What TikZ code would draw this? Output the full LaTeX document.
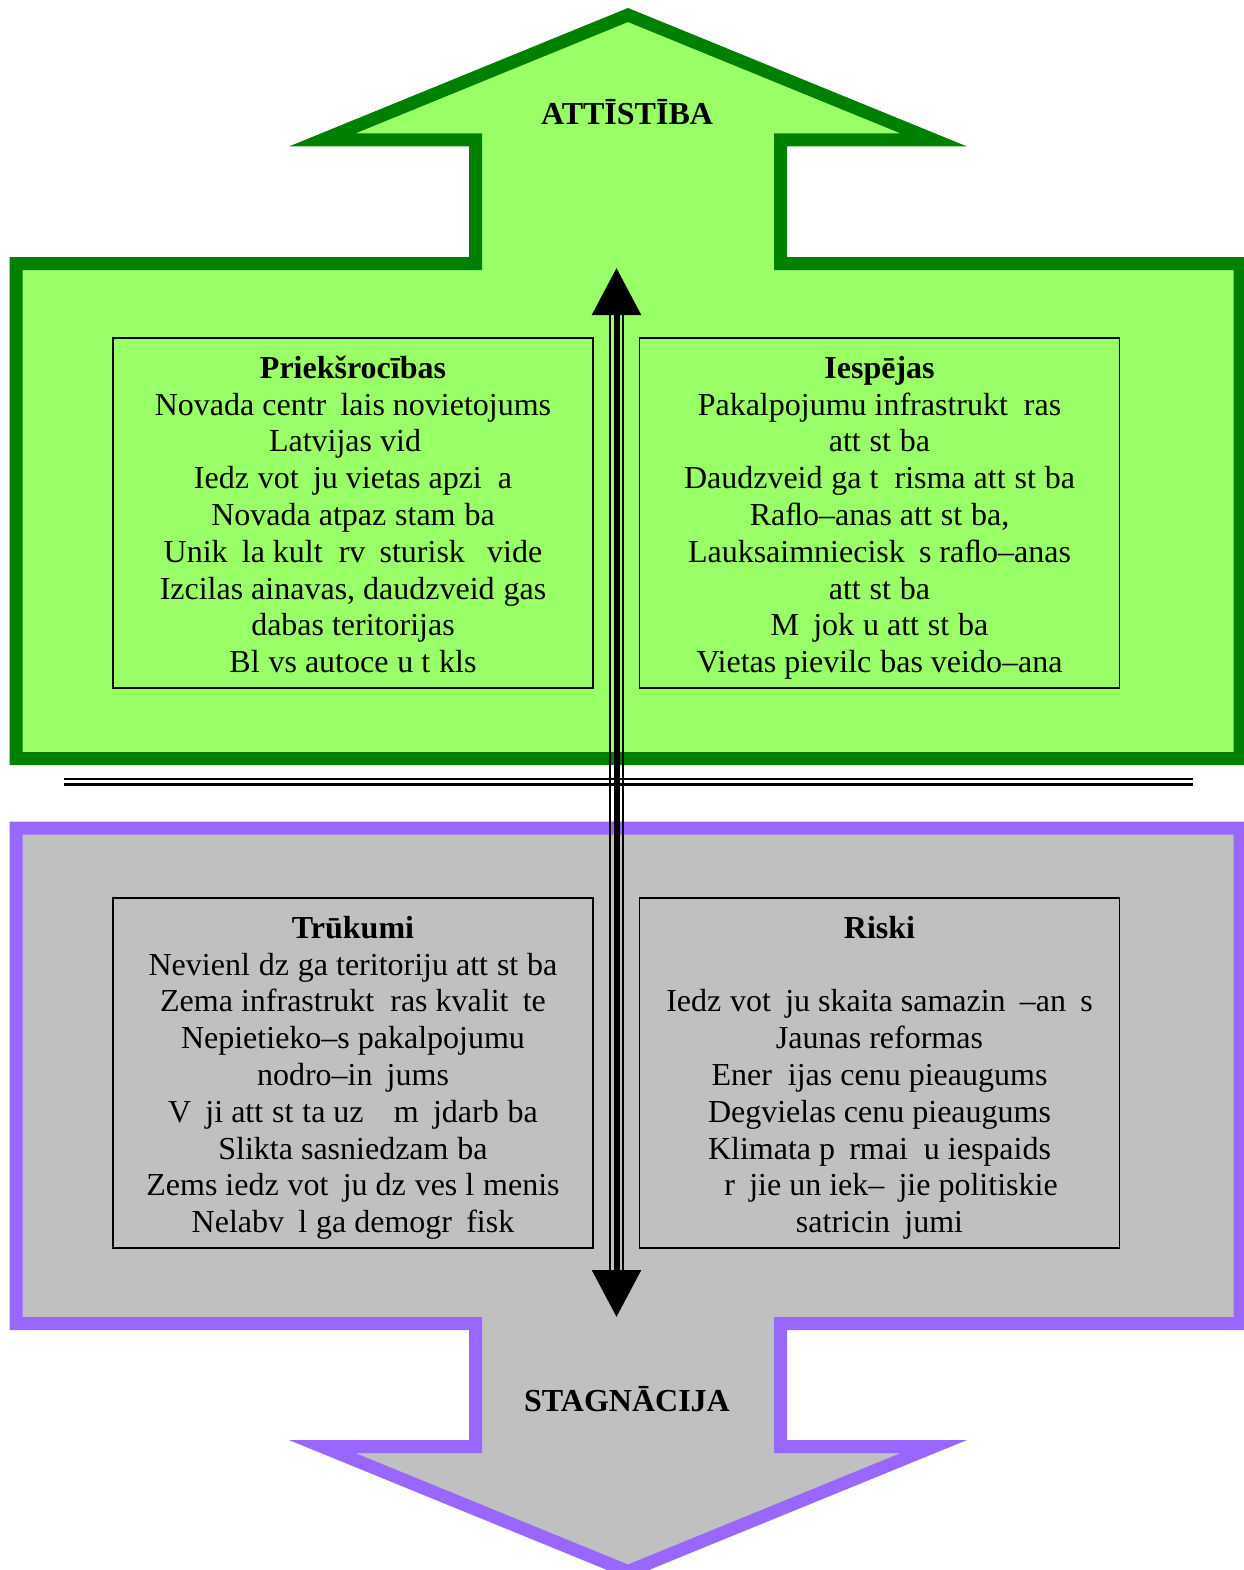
\documentclass[tikz,border=0pt]{standalone}
\usepackage{fontspec}
\setmainfont{Liberation Serif}
\usetikzlibrary{arrows.meta}
\definecolor{upfill}{HTML}{99FF66}
\definecolor{upline}{HTML}{008000}
\definecolor{downfill}{HTML}{C0C0C0}
\definecolor{downline}{HTML}{9966FF}
\newcommand\ph[1]{\phantom{#1}}
\newcommand\topstrut{\rule{0pt}{36pt}}
\begin{document}
\begin{tikzpicture}[x=1pt,y=-1pt,
  bigshape/.style={line width=13pt, miter limit=20, line join=miter},
  swotbox/.style={draw=black, line width=1.3pt, minimum width=480pt, minimum height=350pt, inner sep=0pt, align=center, font=\fontsize{32}{36.8}\selectfont},
  headtxt/.style={font=\fontsize{32}{36.8}\selectfont\bfseries, anchor=base, inner sep=0pt},
  sepline/.style={line width=2.5pt},
  shaftside/.style={line width=2.5pt},
  shaftmid/.style={line width=6pt, {Triangle[length=47pt,width=48pt]}-{Triangle[length=47pt,width=48pt]}},
]
\useasboundingbox (0,0) rectangle (1243,1570);
% development arrow (up)
\draw[bigshape, draw=upline, fill=upfill]
  (322,140) -- (628,15) -- (934,140) -- (780.5,140) -- (780.5,263.5) -- (1240,263.5)
  -- (1240,758.5) -- (16,758.5) -- (16,263.5) -- (475.5,263.5) -- (475.5,140) -- cycle;
% stagnation arrow (down)
\draw[bigshape, draw=downline, fill=downfill]
  (16,828) -- (1240,828) -- (1240,1323.5) -- (780.5,1323.5) -- (780.5,1446.5) -- (934,1446.5)
  -- (628,1571.5) -- (322,1446.5) -- (475.5,1446.5) -- (475.5,1323.5) -- (16,1323.5) -- cycle;
% separating double line
\coordinate (s1a) at (64,779); \coordinate (s1b) at (1193,779);
\coordinate (s2a) at (64,784.5); \coordinate (s2b) at (1193,784.5);
\draw[sepline] (s1a) -- (s1b);
\draw[sepline] (s2a) -- (s2b);
% titles
\node[headtxt] (att) at (627,125) {ATTĪSTĪBA};
\node[headtxt] (stag) at (627,1411) {STAGNĀCIJA};
% boxes
\node[swotbox] (pr) at (353,513) {\topstrut\textbf{Priekšrocības}\\
Novada centr\ph{ā}lais novietojums\\
Latvijas vid\ph{ū}\\
Iedz\ph{ī}vot\ph{ā}ju vietas apzi\ph{ņ}a\\
Novada atpaz\ph{ī}stam\ph{ī}ba\\
Unik\ph{ā}la kult\ph{ū}rv\ph{ē}sturisk\ph{ā} vide\\
Izcilas ainavas, daudzveid\ph{ī}gas\\
dabas teritorijas\\
Bl\ph{ī}vs autoce\ph{ļ}u t\ph{ī}kls\strut};
\node[swotbox] (ie) at (879.5,513) {\topstrut\textbf{Iespējas}\\
Pakalpojumu infrastrukt\ph{ū}ras\\
att\ph{ī}st\ph{ī}ba\\
Daudzveid\ph{ī}ga t\ph{ū}risma att\ph{ī}st\ph{ī}ba\\
Raﬂo–anas att\ph{ī}st\ph{ī}ba,\\
Lauksaimniecisk\ph{ā}s raﬂo–anas\\
att\ph{ī}st\ph{ī}ba\\
M\ph{ā}jok\ph{ļ}u att\ph{ī}st\ph{ī}ba\\
Vietas pievilc\ph{ī}bas veido–ana\strut};
\node[swotbox] (tr) at (353,1073) {\topstrut\textbf{Trūkumi}\\
Nevienl\ph{ī}dz\ph{ī}ga teritoriju att\ph{ī}st\ph{ī}ba\\
Zema infrastrukt\ph{ū}ras kvalit\ph{ā}te\\
Nepietieko–s pakalpojumu\\
nodro–in\ph{ā}jums\\
V\ph{ā}ji att\ph{ī}st\ph{ī}ta uz\ph{ņē}m\ph{ē}jdarb\ph{ī}ba\\
Slikta sasniedzam\ph{ī}ba\\
Zems iedz\ph{ī}vot\ph{ā}ju dz\ph{ī}ves l\ph{ī}menis\\
Nelabv\ph{ē}l\ph{ī}ga demogr\ph{ā}fisk\strut};
\node[swotbox] (ri) at (879.5,1073) {\topstrut\textbf{Riski}\\
\mbox{}\\
Iedz\ph{ī}vot\ph{ā}ju skaita samazin\ph{ā}–an\ph{ā}s\\
Jaunas reformas\\
Ener\ph{ģ}ijas cenu pieaugums\\
Degvielas cenu pieaugums\\
Klimata p\ph{ā}rmai\ph{ņ}u iespaids\\
\ph{Ā}r\ph{ē}jie un iek–\ph{ē}jie politiskie\\
satricin\ph{ā}jumi\strut};
% central double-headed arrow
\coordinate (atop) at (616.5,268);
\coordinate (abot) at (616.5,1317);
\coordinate (lt) at (610,315); \coordinate (lb) at (610,1270);
\coordinate (rt) at (623,315); \coordinate (rb) at (623,1270);
\draw[shaftside] (lt) -- (lb);
\draw[shaftside] (rt) -- (rb);
\draw[shaftmid] (atop) -- (abot);
\end{tikzpicture}
\end{document}
